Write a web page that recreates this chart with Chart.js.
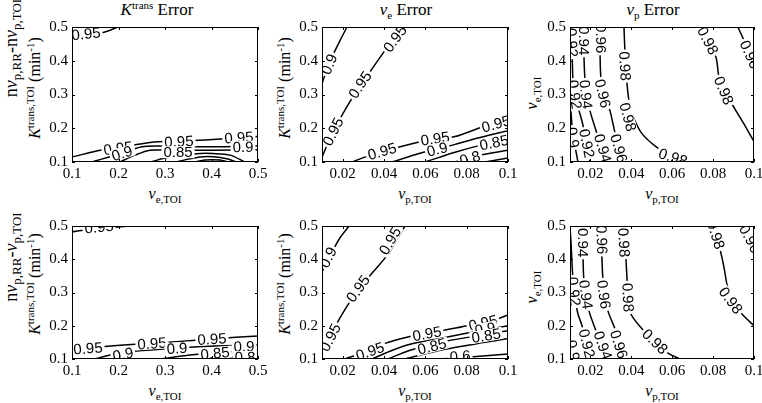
<!DOCTYPE html>
<html>
<head>
<meta charset="UTF-8">
<script src="https://cdn.jsdelivr.net/npm/chart.js"></script>
<style>
  body { margin: 0; width: 762px; height: 403px; background: #fff; position: relative; overflow: hidden;
         font-family: 'Liberation Serif', 'Times New Roman', serif; color: #000; }
  canvas { position: absolute; }
  .lbl { position: absolute; white-space: nowrap; transform: translate(-50%, -50%); font-size: 16px; line-height: 1; }
  .ttl { font-size: 17px; }
  .rot { transform: translate(-50%, -50%) rotate(-90deg); }
  .sub { font-size: 11px; position: relative; top: 4px; }
  .sup { font-size: 11px; position: relative; top: -6px; }
  .big { font-size: 18px; }
  .big .sub { font-size: 13px; }
</style>
</head>
<body>
<!-- titles -->
<div class="lbl ttl" style="left:157px;top:9px"><i>K</i><span class="sup">trans</span> Error</div>
<div class="lbl ttl" style="left:406px;top:9px"><i>v</i><span class="sub">e</span> Error</div>
<div class="lbl ttl" style="left:653px;top:9px"><i>v</i><span class="sub">p</span> Error</div>
<!-- x axis titles -->
<div class="lbl" style="left:165px;top:194px"><i>v</i><span class="sub">e,TOI</span></div>
<div class="lbl" style="left:415px;top:194px"><i>v</i><span class="sub">p,TOI</span></div>
<div class="lbl" style="left:662px;top:194px"><i>v</i><span class="sub">p,TOI</span></div>
<div class="lbl" style="left:165px;top:391px"><i>v</i><span class="sub">e,TOI</span></div>
<div class="lbl" style="left:415px;top:391px"><i>v</i><span class="sub">p,TOI</span></div>
<div class="lbl" style="left:662px;top:391px"><i>v</i><span class="sub">p,TOI</span></div>
<!-- y axis titles -->
<div class="lbl rot" style="left:35px;top:88px"><i>K</i><span class="sup">trans,TOI</span> (min<span class="sup">-1</span>)</div>
<div class="lbl rot" style="left:285px;top:88px"><i>K</i><span class="sup">trans,TOI</span> (min<span class="sup">-1</span>)</div>
<div class="lbl rot" style="left:532px;top:93px"><i>v</i><span class="sub">e,TOI</span></div>
<div class="lbl rot" style="left:35px;top:284px"><i>K</i><span class="sup">trans,TOI</span> (min<span class="sup">-1</span>)</div>
<div class="lbl rot" style="left:285px;top:284px"><i>K</i><span class="sup">trans,TOI</span> (min<span class="sup">-1</span>)</div>
<div class="lbl rot" style="left:532px;top:287px"><i>v</i><span class="sub">e,TOI</span></div>
<div class="lbl rot big" style="left:11px;top:48px">n<i>v</i><span class="sub">p,RR</span>-n<i>v</i><span class="sub">p,TOI</span></div>
<div class="lbl rot big" style="left:11px;top:257px">n<i>v</i><span class="sub">p,RR</span>-<i>v</i><span class="sub">p,TOI</span></div>

<script>
// tick values / labels
const veTicks = [0.1, 0.2, 0.3, 0.4, 0.5];
const veTickLabels = ['0.1', '0.2', '0.3', '0.4', '0.5'];
const ktransTicks = [0.1, 0.2, 0.3, 0.4, 0.5];
const ktransTickLabels = ['0.1', '0.2', '0.3', '0.4', '0.5'];
const vpTicks = [0.02, 0.04, 0.06, 0.08, 0.1];
const vpTickLabels = ['0.02', '0.04', '0.06', '0.08', '0.1'];

// Ktrans error, top row (x = ve, y = Ktrans)
const kTopLevels = [0.95, 0.95, 0.9, 0.85, 0.8, 0.75, 0.7];
const kTopLines = [
  [[0.1, 0.474], [0.1645, 0.483], [0.199, 0.5]],
  [[0.1, 0.1145], [0.1602, 0.1348], [0.1989, 0.142], [0.2677, 0.158], [0.3322, 0.1624], [0.4032, 0.1667], [0.5, 0.1754]],
  [[0.143, 0.1], [0.16, 0.107], [0.199, 0.123], [0.2505, 0.145], [0.2957, 0.147], [0.4032, 0.145], [0.5, 0.148]],
  [[0.2032, 0.1], [0.2355, 0.1203], [0.2677, 0.1348], [0.3107, 0.1348], [0.4032, 0.1348], [0.5, 0.1363]],
  [[0.2677, 0.1], [0.3107, 0.1145], [0.3753, 0.1252], [0.4032, 0.1252], [0.4398, 0.1203], [0.472, 0.1]],
  [[0.3215, 0.1], [0.3753, 0.1145], [0.4032, 0.1154], [0.4355, 0.1087], [0.4527, 0.1]],
  [[0.3645, 0.1], [0.386, 0.1058], [0.4183, 0.1058], [0.4355, 0.1]]
];
const kTopLabels = [[0, 0.13, 0.48], [1, 0.199, 0.141], [1, 0.33, 0.161], [1, 0.459, 0.1725],
  [2, 0.2075, 0.1261], [2, 0.4677, 0.145], [3, 0.328, 0.129]];

// ve error, top row (x = vp, y = Ktrans)
const veTopLevels = [0.9, 0.95, 0.95, 0.9, 0.85, 0.8, 0.75];
const veTopLines = [
  [[0.01, 0.332], [0.0119, 0.3668], [0.0148, 0.4103], [0.0187, 0.4596], [0.0221, 0.5]],
  [[0.01, 0.1145], [0.0139, 0.1696], [0.0187, 0.2276], [0.0245, 0.2885], [0.0332, 0.3668], [0.0405, 0.4306], [0.0468, 0.4828], [0.0492, 0.5]],
  [[0.0245, 0.1], [0.0308, 0.1145], [0.0453, 0.1406], [0.056, 0.158], [0.0744, 0.1754], [0.0865, 0.2015], [0.1, 0.2247]],
  [[0.0439, 0.1], [0.0574, 0.1261], [0.0744, 0.1522], [0.0865, 0.1725], [0.1, 0.1928]],
  [[0.0599, 0.1], [0.0744, 0.129], [0.0865, 0.1493], [0.1, 0.1667]],
  [[0.0744, 0.1], [0.0865, 0.1203], [0.1, 0.1348]],
  [[0.0889, 0.1], [0.1, 0.1116]]
];
const veTopLabels = [[0, 0.0134, 0.39], [1, 0.0153, 0.19], [1, 0.0284, 0.329], [1, 0.0453, 0.4654],
  [2, 0.039, 0.1319], [2, 0.0647, 0.1696], [2, 0.0942, 0.2131], [3, 0.0657, 0.1377], [4, 0.0932, 0.1577], [5, 0.0816, 0.1116]];

// vp error, top row (x = vp, y = ve)
const vpTopLevels = [0.98, 0.98, 0.96, 0.96, 0.94, 0.92, 0.9];
const vpTopLines = [
  [[0.0364, 0.5], [0.0369, 0.4248], [0.0379, 0.332], [0.0389, 0.2798], [0.0408, 0.2363], [0.0452, 0.1841], [0.0525, 0.1435], [0.0599, 0.1174], [0.0687, 0.1]],
  [[0.0736, 0.5], [0.0775, 0.4538], [0.0814, 0.4103], [0.0829, 0.3523], [0.0863, 0.303], [0.0907, 0.2566], [0.0956, 0.2073], [0.1, 0.1609]],
  [[0.0921, 0.5], [0.0956, 0.4538], [0.1, 0.3958]],
  [[0.0247, 0.5], [0.0247, 0.4248], [0.0252, 0.3436], [0.0271, 0.2943], [0.0296, 0.2508], [0.032, 0.187], [0.0345, 0.1348], [0.0364, 0.1]],
  [[0.0168, 0.5], [0.0168, 0.4248], [0.0173, 0.3465], [0.0183, 0.2943], [0.0198, 0.2508], [0.0232, 0.1841], [0.0256, 0.1406], [0.0276, 0.1]],
  [[0.0105, 0.5], [0.011, 0.4335], [0.0115, 0.3378], [0.0129, 0.2798], [0.0149, 0.2421], [0.0164, 0.2073], [0.0183, 0.1493], [0.0198, 0.1]],
  [[0.01, 0.2943], [0.011, 0.2073], [0.0124, 0.1493], [0.0139, 0.1]]
];
const vpTopLabels = [[0, 0.0369, 0.3842], [0, 0.0384, 0.2334], [0, 0.0604, 0.1145], [1, 0.0775, 0.4596], [1, 0.0853, 0.3117],
  [2, 0.098, 0.4188], [3, 0.0252, 0.4654], [3, 0.0261, 0.303], [3, 0.034, 0.1406], [4, 0.0168, 0.4596], [4, 0.0178, 0.3001],
  [4, 0.0261, 0.1406], [5, 0.011, 0.4538], [5, 0.0124, 0.3001], [5, 0.0183, 0.1551], [6, 0.0115, 0.1725]];

// Ktrans error, bottom row
const kBotLevels = [0.95, 0.95, 0.9, 0.85, 0.8];
const kBotLines = [
  [[0.1, 0.4822], [0.128, 0.4881], [0.1602, 0.4925], [0.2247, 0.5]],
  [[0.1, 0.1294], [0.1387, 0.1338], [0.2032, 0.1412], [0.2677, 0.147], [0.3322, 0.1529], [0.3968, 0.1603], [0.4613, 0.1662], [0.5, 0.1691]],
  [[0.1495, 0.1], [0.1817, 0.1118], [0.214, 0.1206], [0.3237, 0.1323], [0.3968, 0.1382], [0.4699, 0.1412], [0.5, 0.1426]],
  [[0.2892, 0.1], [0.3537, 0.1118], [0.4075, 0.1191], [0.5, 0.1235]],
  [[0.3753, 0.1], [0.4398, 0.1059], [0.5, 0.1074]]
];
const kBotLabels = [[0, 0.158, 0.497], [1, 0.1344, 0.1323], [1, 0.272, 0.147], [1, 0.401, 0.1603],
  [2, 0.2097, 0.1147], [2, 0.3258, 0.1323], [2, 0.4699, 0.1382], [3, 0.4075, 0.1176], [4, 0.472, 0.1059]];

// ve error, bottom row
const veBotLevels = [0.9, 0.95, 0.95, 0.9, 0.85, 0.8, 0.6];
const veBotLines = [
  [[0.01, 0.3617], [0.0124, 0.3911], [0.0153, 0.4263], [0.0187, 0.4646], [0.0231, 0.5]],
  [[0.01, 0.1206], [0.0139, 0.1676], [0.0187, 0.2235], [0.0236, 0.2735], [0.0284, 0.3146], [0.0347, 0.3617], [0.0419, 0.4146], [0.0458, 0.4557], [0.0502, 0.5]],
  [[0.0211, 0.1], [0.0332, 0.1265], [0.0405, 0.147], [0.0526, 0.1676], [0.0608, 0.1764], [0.0681, 0.1853], [0.0802, 0.2], [0.0947, 0.2205], [0.1, 0.2323]],
  [[0.0342, 0.1], [0.0429, 0.1235], [0.0526, 0.1441], [0.0695, 0.1647], [0.0816, 0.1794], [0.1, 0.2]],
  [[0.0419, 0.1], [0.0526, 0.1265], [0.0695, 0.1529], [0.0889, 0.1735], [0.1, 0.1853]],
  [[0.0502, 0.1], [0.0695, 0.1294], [0.0889, 0.15], [0.1, 0.1617]],
  [[0.0671, 0.1], [0.0816, 0.1059], [0.1, 0.1147]]
];
const veBotLabels = [[0, 0.0129, 0.4058], [1, 0.0139, 0.1647], [1, 0.0274, 0.3117], [1, 0.0429, 0.4557],
  [2, 0.0332, 0.1235], [2, 0.0608, 0.1764], [2, 0.0879, 0.2088], [3, 0.0889, 0.1911], [4, 0.0632, 0.1382],
  [4, 0.0894, 0.1706], [6, 0.0768, 0.1088]];

// vp error, bottom row
const vpBotLevels = [0.98, 0.98, 0.96, 0.96, 0.94, 0.92, 0.9];
const vpBotLines = [
  [[0.0369, 0.5], [0.0374, 0.45], [0.0374, 0.3999], [0.0379, 0.3411], [0.0384, 0.2852], [0.0398, 0.2352], [0.0452, 0.1911], [0.0516, 0.1529], [0.0579, 0.1176], [0.0638, 0.1]],
  [[0.0799, 0.5], [0.0814, 0.4704], [0.0834, 0.4293], [0.0853, 0.3764], [0.0868, 0.3234], [0.0887, 0.2793], [0.0941, 0.2352], [0.1, 0.2]],
  [[0.0946, 0.5], [0.097, 0.4734], [0.1, 0.4381]],
  [[0.0252, 0.5], [0.0256, 0.4058], [0.0261, 0.3411], [0.0271, 0.294], [0.0286, 0.2441], [0.032, 0.1911], [0.0345, 0.147], [0.0369, 0.1]],
  [[0.0164, 0.5], [0.0164, 0.3999], [0.0168, 0.3381], [0.0178, 0.294], [0.0193, 0.2441], [0.0232, 0.1764], [0.0256, 0.1353], [0.0276, 0.1]],
  [[0.01, 0.494], [0.0105, 0.45], [0.011, 0.3852], [0.0115, 0.3381], [0.0124, 0.2852], [0.0139, 0.2352], [0.0159, 0.2], [0.0183, 0.1412], [0.0198, 0.1]],
  [[0.01, 0.1706], [0.011, 0.1323], [0.012, 0.1]]
];
const vpBotLabels = [[0, 0.0364, 0.45], [0, 0.0384, 0.2852], [0, 0.0516, 0.1529], [1, 0.0814, 0.4734], [1, 0.0887, 0.2764],
  [2, 0.098, 0.4616], [3, 0.0256, 0.4587], [3, 0.0266, 0.294], [3, 0.034, 0.1441], [4, 0.0164, 0.45], [4, 0.0178, 0.294],
  [4, 0.0261, 0.1412], [5, 0.012, 0.3029], [5, 0.0183, 0.147], [6, 0.0115, 0.1265]];

// box, inward ticks and inline contour labels
const contourDeco = {
  id: 'contourDeco',
  afterDraw(chart, args, opts) {
    const { ctx, chartArea: a, scales: { x, y } } = chart;
    ctx.save();
    ctx.beginPath();
    ctx.rect(a.left, a.top, a.right - a.left, a.bottom - a.top);
    ctx.clip();
    ctx.font = '15px "Liberation Sans", Arial, sans-serif';
    ctx.textAlign = 'center';
    ctx.textBaseline = 'middle';
    for (const [li, lx, ly] of opts.labels) {
      const pts = opts.lines[li].map(p => [x.getPixelForValue(p[0]), y.getPixelForValue(p[1])]);
      const px = x.getPixelForValue(lx), py = y.getPixelForValue(ly);
      let best = Infinity, ang = 0;
      for (let i = 0; i < pts.length - 1; i++) {
        const [x1, y1] = pts[i], [x2, y2] = pts[i + 1];
        const dx = x2 - x1, dy = y2 - y1;
        let t = ((px - x1) * dx + (py - y1) * dy) / (dx * dx + dy * dy || 1);
        t = Math.max(0, Math.min(1, t));
        const d = Math.hypot(x1 + t * dx - px, y1 + t * dy - py);
        if (d < best) { best = d; ang = Math.atan2(dy, dx); }
      }
      if (ang > Math.PI / 2 + 0.01) ang -= Math.PI;
      if (ang < -Math.PI / 2 - 0.01) ang += Math.PI;
      const txt = String(opts.levels[li]);
      const w = ctx.measureText(txt).width;
      ctx.save();
      ctx.translate(px, py);
      ctx.rotate(ang);
      ctx.fillStyle = '#fff';
      ctx.fillRect(-w / 2 - 2, -6, w + 4, 12);
      ctx.fillStyle = '#000';
      ctx.fillText(txt, 0, 1);
      ctx.restore();
    }
    ctx.restore();

    ctx.save();
    ctx.strokeStyle = '#000';
    ctx.lineWidth = 1;
    ctx.strokeRect(a.left + 0.5, a.top + 0.5, a.right - a.left - 1, a.bottom - a.top - 1);
    ctx.beginPath();
    for (const t of x.ticks) {
      const p = Math.round(x.getPixelForValue(t.value)) + 0.5;
      ctx.moveTo(p, a.bottom); ctx.lineTo(p, a.bottom - 3);
      ctx.moveTo(p, a.top); ctx.lineTo(p, a.top + 3);
    }
    for (const t of y.ticks) {
      const p = Math.round(y.getPixelForValue(t.value)) + 0.5;
      ctx.moveTo(a.left, p); ctx.lineTo(a.left + 3, p);
      ctx.moveTo(a.right, p); ctx.lineTo(a.right - 3, p);
    }
    ctx.stroke();
    ctx.restore();
  }
};

const tickFont = { family: "'Liberation Serif', 'Times New Roman', serif", size: 15 };

function makePanel(box, xr, xTicks, xLabels, yTicks, yLabels, levels, lines, labels) {
  const padTop = 10, padRight = 16, yW = 40, xH = 25;
  const cv = document.createElement('canvas');
  cv.width = box.right - box.left + yW + padRight;
  cv.height = box.bottom - box.top + padTop + xH;
  cv.style.left = (box.left - yW) + 'px';
  cv.style.top = (box.top - padTop) + 'px';
  document.body.appendChild(cv);
  new Chart(cv, {
    type: 'scatter',
    data: {
      datasets: lines.map(l => ({
        data: l.map(([vx, vy]) => ({ x: vx, y: vy })),
        showLine: true, borderColor: '#000', borderWidth: 1.5,
        pointRadius: 0, tension: 0.3, fill: false
      }))
    },
    options: {
      responsive: false, animation: false,
      layout: { padding: { top: padTop, right: padRight, left: 0, bottom: 0 } },
      plugins: { legend: { display: false }, tooltip: { enabled: false },
        contourDeco: { levels, lines, labels } },
      scales: {
        x: {
          type: 'linear', min: xr[0], max: xr[1],
          afterBuildTicks: ax => { ax.ticks = xTicks.map(v => ({ value: v })); },
          afterFit: ax => { ax.height = xH; },
          ticks: { callback: v => xLabels[xTicks.indexOf(v)], font: tickFont, color: '#000',
            padding: 3, maxRotation: 0, autoSkip: false },
          grid: { display: false, drawTicks: false }, border: { display: false }
        },
        y: {
          type: 'linear', min: 0.1, max: 0.5,
          afterBuildTicks: ax => { ax.ticks = yTicks.map(v => ({ value: v })); },
          afterFit: ax => { ax.width = yW; },
          ticks: { callback: v => yLabels[yTicks.indexOf(v)], font: tickFont, color: '#000',
            padding: 4, autoSkip: false },
          grid: { display: false, drawTicks: false }, border: { display: false }
        }
      }
    },
    plugins: [contourDeco]
  });
}

const top1 = { top: 24, bottom: 162 }, top2 = { top: 223, bottom: 359 };
makePanel({ left: 72, right: 258, ...top1 }, [0.1, 0.5], veTicks, veTickLabels, ktransTicks, ktransTickLabels, kTopLevels, kTopLines, kTopLabels);
makePanel({ left: 322, right: 508, ...top1 }, [0.01, 0.1], vpTicks, vpTickLabels, ktransTicks, ktransTickLabels, veTopLevels, veTopLines, veTopLabels);
makePanel({ left: 570, right: 754, ...top1 }, [0.01, 0.1], vpTicks, vpTickLabels, veTicks, veTickLabels, vpTopLevels, vpTopLines, vpTopLabels);
makePanel({ left: 72, right: 258, ...top2 }, [0.1, 0.5], veTicks, veTickLabels, ktransTicks, ktransTickLabels, kBotLevels, kBotLines, kBotLabels);
makePanel({ left: 322, right: 508, ...top2 }, [0.01, 0.1], vpTicks, vpTickLabels, ktransTicks, ktransTickLabels, veBotLevels, veBotLines, veBotLabels);
makePanel({ left: 570, right: 754, ...top2 }, [0.01, 0.1], vpTicks, vpTickLabels, veTicks, veTickLabels, vpBotLevels, vpBotLines, vpBotLabels);
</script>
</body>
</html>
